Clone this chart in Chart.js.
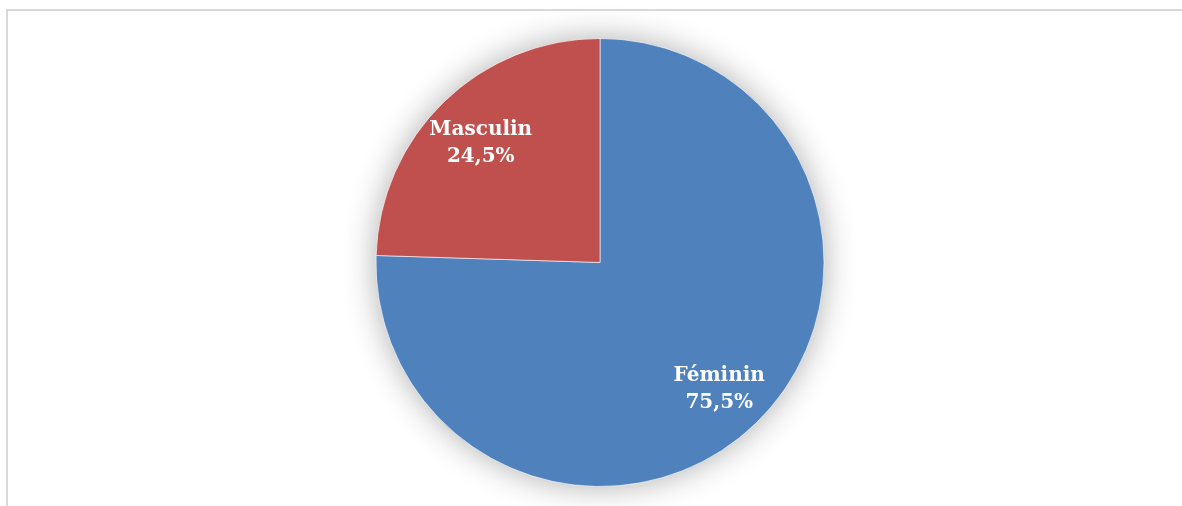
<!DOCTYPE html>
<html>
<head>
<meta charset="utf-8">
<script src="https://cdn.jsdelivr.net/npm/chart.js@4"></script>
<style>
  html, body { margin: 0; padding: 0; background: #fff; }
  #wrap { position: relative; width: 1182px; height: 506px; }
  #frame { position: absolute; left: 6px; top: 9px; right: 0; bottom: 0;
           border-top: 2px solid #d9d9d9; border-left: 2px solid #d9d9d9; pointer-events: none; }
  canvas { position: absolute; left: 0; top: 0; }
</style>
</head>
<body>
<div id="wrap">
  <canvas id="chart" width="1182" height="506"></canvas>
  <div id="frame"></div>
</div>
<script>
const categories = ["Féminin", "Masculin"]
const values = [75.5, 24.5]
const colors = ["#4F81BD", "#C0504D"]

//soft glow under the whole pie
const pieShadow = {
    id: "pieShadow",
    beforeDatasetsDraw(chart){
        const arc = chart.getDatasetMeta(0).data[0]
        if(!arc) return
        const ctx = chart.ctx
        ctx.save()
        ctx.shadowColor = "rgba(0,0,0,0.32)"
        ctx.shadowBlur = 32
        ctx.fillStyle = "#ffffff"
        ctx.beginPath()
        ctx.arc(arc.x, arc.y, arc.outerRadius, 0, Math.PI * 2)
        ctx.fill()
        ctx.restore()
    }
}

//white labels inside the slices
const sliceLabels = {
    id: "sliceLabels",
    afterDatasetsDraw(chart){
        const ctx = chart.ctx
        const meta = chart.getDatasetMeta(0)
        ctx.save()
        ctx.fillStyle = "#ffffff"
        ctx.font = "bold 20px 'DejaVu Serif'"
        ctx.textAlign = "center"
        ctx.textBaseline = "middle"
        meta.data.forEach((arc, i) => {
            const mid = (arc.startAngle + arc.endAngle) / 2
            const r = arc.outerRadius * 0.765
            const x = arc.x + Math.cos(mid) * r
            const y = arc.y + Math.sin(mid) * r + 4
            ctx.fillText(categories[i], x, y - 14)
            ctx.fillText(values[i].toFixed(1).replace(".", ",") + "%", x, y + 13)
        })
        ctx.restore()
    }
}

new Chart(document.getElementById("chart"), {
    type: "pie",
    data: {
        labels: categories,
        datasets: [{
            data: values,
            backgroundColor: colors,
            borderColor: "rgba(255,255,255,0.6)",
            borderWidth: 1
        }]
    },
    options: {
        responsive: false,
        animation: false,
        layout: {
            padding: { top: 38, bottom: 19, left: 375, right: 357 }
        },
        plugins: {
            legend: { display: false },
            tooltip: { enabled: false }
        }
    },
    plugins: [pieShadow, sliceLabels]
})
</script>
</body>
</html>
